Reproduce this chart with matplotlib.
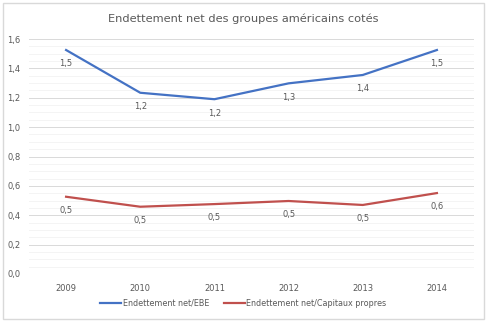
import numpy as np
import matplotlib.pyplot as plt
from matplotlib.patches import Rectangle

# Donnees
annees = ["2009", "2010", "2011", "2012", "2013", "2014"]
dette_ebe = [1.525, 1.234, 1.19, 1.298, 1.355, 1.525]
dette_cp = [0.526, 0.458, 0.476, 0.497, 0.47, 0.551]

gris = "#595959"
bleu = "#4472C4"
rouge = "#C0504D"

fig = plt.figure(figsize=(4.87, 3.22), dpi=100)
ax = fig.add_axes([29/487, 1-274/322, 445/487, 235/322])

x = np.arange(len(annees))
ax.plot(x, dette_ebe, color=bleu, lw=1.6, label="Endettement net/EBE")
ax.plot(x, dette_cp, color=rouge, lw=1.6, label="Endettement net/Capitaux propres")

# etiquettes sous les points
for serie in (dette_ebe, dette_cp):
    for xi, v in zip(x, serie):
        ax.annotate(("%.1f" % v).replace(".", ","), (xi, v), xytext=(0, -10),
                    textcoords="offset points", ha="center", va="center",
                    fontsize=6, color=gris)

ax.set_xlim(-0.5, 5.5)
ax.set_ylim(0, 1.6)
ax.set_xticks(x)
ax.set_xticklabels(annees)
yt = np.arange(0, 1.61, 0.2)
ax.set_yticks(yt)
ax.set_yticklabels([("%.1f" % v).replace(".", ",") for v in yt])
ax.set_yticks(np.arange(0, 1.6, 0.05), minor=True)
ax.tick_params(axis="both", length=0, labelsize=6, labelcolor=gris)
ax.tick_params(axis="y", which="minor", length=0)
ax.tick_params(axis="y", pad=6)
ax.tick_params(axis="x", pad=7)
ax.grid(True, axis="y", which="major", color="#D9D9D9", lw=0.7)
ax.grid(True, axis="y", which="minor", color="#F2F2F2", lw=0.6)
ax.set_axisbelow(True)
for s in ax.spines.values():
    s.set_visible(False)

fig.text(0.5, 1-19/322, "Endettement net des groupes américains cotés",
         ha="center", va="center", fontsize=8.2, color=gris)

leg = fig.legend(loc="center", bbox_to_anchor=(0.5, 1-303/322), ncol=2,
                 frameon=False, fontsize=5.8, handlelength=2.6,
                 columnspacing=1.8, handletextpad=0.2)
for t in leg.get_texts():
    t.set_color(gris)

fig.patches.append(Rectangle((3/487, 3/322), 481/487, 316/322, transform=fig.transFigure,
                             fill=False, edgecolor="#D9D9D9", lw=1))

plt.savefig("out.png", dpi=100)
